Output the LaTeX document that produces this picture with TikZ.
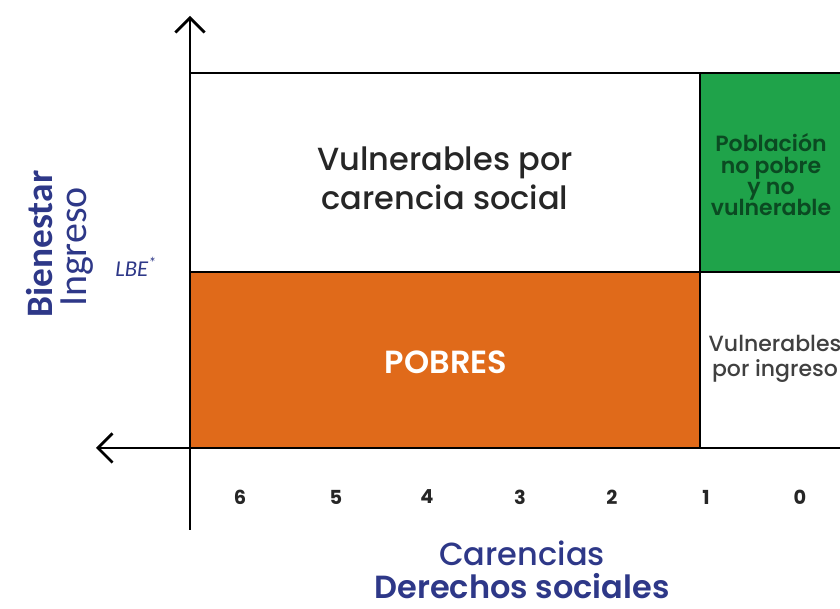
\documentclass[tikz,border=0pt]{standalone}
\usepackage{fontspec}
\setmainfont{Poppins}
\newfontfamily\popmed{Poppins Medium}
\newfontfamily\popsemi{Poppins SemiBold}
\newfontfamily\carl{Carlito}
\usetikzlibrary{arrows.meta}
\definecolor{pobreorange}{HTML}{E06A1A}
\definecolor{okgreen}{HTML}{1FA34A}
\definecolor{darkgreentext}{HTML}{0B4A22}
\definecolor{axisblue}{HTML}{2E3888}
\tikzset{
  axisline/.style={line width=2.2pt, black},
  gridline/.style={line width=2pt, black},
  arrowtip/.style={-{Straight Barb[length=11pt,width=22pt,line width=2pt]}},
  bigtxt/.style={font=\popmed\fontsize{24}{29}\selectfont, align=center, text=black!85},
  smalltxt/.style={font=\popsemi\fontsize{16.5}{19}\selectfont, align=center},
  numtxt/.style={font=\fontsize{14.5}{16}\selectfont\bfseries, text=black!85},
  bluelab/.style={text=axisblue, align=center},
}
\begin{document}
\begin{tikzpicture}[x=0.75pt,y=-0.75pt]
\useasboundingbox (0,0) rectangle (840,609);
\clip (0,0) rectangle (840,609);
% regions
\fill[pobreorange] (190,272) rectangle (700,448);
\fill[okgreen] (700,73) rectangle (860,272);
% grid lines
\coordinate (tl) at (190,73);
\coordinate (tr) at (860,73);
\coordinate (ml) at (190,272);
\coordinate (mr) at (860,272);
\coordinate (dtop) at (700,73);
\coordinate (dbot) at (700,448);
\draw[gridline] (tl) -- (tr);
\draw[gridline] (ml) -- (mr);
\draw[gridline] (dtop) -- (dbot);
% axes
\coordinate (ybot) at (190,530);
\coordinate (ytop) at (190,16);
\coordinate (xright) at (860,448);
\coordinate (xleft) at (96,448);
\draw[axisline, arrowtip] (ybot) -- (ytop);
\draw[axisline, arrowtip] (xright) -- (xleft);
% region labels
\node[bigtxt] (vcs) at (445,178) {Vulnerables por\\carencia social};
\node[font=\popsemi\fontsize{24}{28}\selectfont, text=white] (pobres) at (446,362) {POBRES};
\node[smalltxt, text=darkgreentext] (nopobre) at (771,175) {Población\\[-3pt]no pobre\\[-3pt]y no\\[-3pt]vulnerable};
\node[smalltxt, text=black!75, anchor=west, font=\popmed\fontsize{16.5}{19}\selectfont] (ving) at (704,359) {Vulnerables\\por ingreso};
% numbers
\foreach \n/\x in {6/240,5/336,4/427,3/520,2/612,1/706,0/800}{
  \node[numtxt] (n\n) at (\x,497) {\n};
}
% axis titles
\node[bluelab, font=\popmed\fontsize{24}{28}\selectfont] (car) at (522,553) {Carencias};
\node[bluelab, font=\popsemi\fontsize{24}{28}\selectfont] (der) at (522,586) {Derechos sociales};
\node[bluelab, rotate=90, font=\carl\fontsize{28}{32}\selectfont\bfseries] (bien) at (40,244) {Bienestar};
\node[bluelab, rotate=90, font=\carl\fontsize{30}{34}\selectfont] (ing) at (77,247) {Ingreso};
\node[bluelab, font=\carl\fontsize{17}{19}\selectfont\itshape] (lbe) at (136,267) {LBE\textsuperscript{*}};
\end{tikzpicture}
\end{document}
